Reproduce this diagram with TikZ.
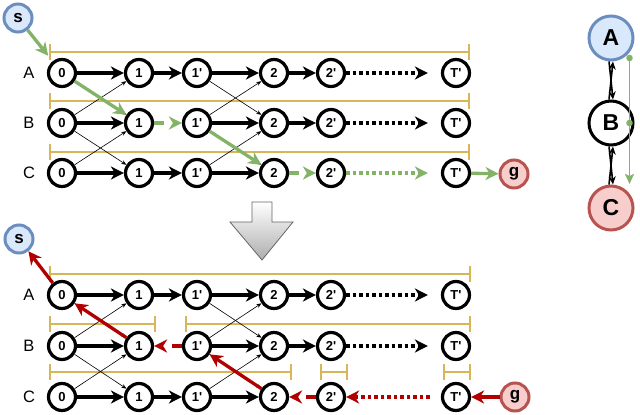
\documentclass[tikz,border=0pt]{standalone}
\usepackage{fontspec}
\setmainfont{Liberation Sans}
\usetikzlibrary{arrows.meta}
\definecolor{ygold}{HTML}{D6B656}
\definecolor{pgreen}{HTML}{82B366}
\definecolor{pred}{HTML}{B20000}
\definecolor{sblue}{HTML}{6C8EBF}
\definecolor{sbluef}{HTML}{DAE8FC}
\definecolor{gred}{HTML}{B85450}
\definecolor{gredf}{HTML}{F8CECC}
\tikzset{
  st/.style={circle,draw=black,line width=3.2pt,fill=white,minimum size=27pt,inner sep=0pt,
    font=\bfseries\fontsize{13}{13}\selectfont},
  term/.style={circle,line width=3pt,minimum size=28pt,inner sep=0pt,
    font=\bfseries\fontsize{17}{17}\selectfont},
  snode/.style={term,draw=sblue,fill=sbluef},
  gnode/.style={term,draw=gred,fill=gredf},
  big/.style={circle,line width=3pt,minimum size=44pt,inner sep=0pt,
    font=\bfseries\fontsize{23}{23}\selectfont},
  rowlab/.style={font=\fontsize{16.5}{17}\selectfont},
  tip/.style={-{Stealth[length=13pt,width=13pt,inset=4pt]}},
  thk/.style={line width=3.3pt,tip},
  shortd/.style={dash pattern=on 10pt off 20pt},
  dotl/.style={line width=3.5pt,dash pattern=on 3.5pt off 3pt,tip,shorten >=13pt},
  thin/.style={line width=0.6pt,-{Stealth[length=5pt,width=4pt]}},
  ybar/.style={draw=ygold,line width=1.6pt,{Bar[width=16pt]}-{Bar[width=16pt]}},
  gpath/.style={draw=pgreen,line width=3.3pt,tip},
  rpath/.style={draw=pred,line width=3.3pt,tip},
  dbl/.style={line width=1.6pt,-{Stealth[length=8pt,width=7pt]}},
}
\begin{document}
\begin{tikzpicture}[x=1pt,y=-1pt]
\useasboundingbox (0,0) rectangle (640,415);

% ---------- yellow crossbars ----------
\draw[ybar] (49,52) -- (470,52);
\draw[ybar] (49,101) -- (470,101);
\draw[ybar] (49,152) -- (470,152);
\draw[ybar] (49,274) -- (471,274);
\draw[ybar] (49,324) -- (156,324);
\draw[ybar] (185,324) -- (471,324);
\draw[ybar] (49,372) -- (292,372);
\draw[ybar] (320,372) -- (348,372);
\draw[ybar] (443,372) -- (471,372);

% ---------- state nodes ----------
\foreach \p/\ya/\yb/\yc in {t/73/123/173, b/295/346/397} {
  \foreach \r/\y in {A/\ya, B/\yb, C/\yc} {
    \foreach \c/\x/\l in {0/62/0, 1/139/1, 1p/197/1\textquotesingle, 2/274/2, 2p/331/2\textquotesingle, T/456/T\textquotesingle} {
      \node[st] (\p\r\c) at (\x,\y) {\l};
    }
  }
}
\foreach \p/\ya/\yb/\yc in {t/73/123/173, b/295/346/397} {
  \node[rowlab] (\p labA) at (29,\ya) {A};
  \node[rowlab] (\p labB) at (29,\yb) {B};
  \node[rowlab] (\p labC) at (29,\yc) {C};
}

\node[snode] (ts) at (18,18) {s};
\node[gnode] (tg) at (514,174) {g};
\node[snode] (bs) at (19,239) {s};
\node[gnode] (bg) at (515,397) {g};

% ---------- thin cross links ----------
\foreach \p in {t,b} {
  \draw[thin] (\p A0) -- (\p B1);
  \draw[thin] (\p B0) -- (\p A1);
  \draw[thin] (\p B0) -- (\p C1);
  \draw[thin] (\p C0) -- (\p B1);
  \draw[thin] (\p A1p) -- (\p B2);
  \draw[thin] (\p B1p) -- (\p A2);
  \draw[thin] (\p B1p) -- (\p C2);
  \draw[thin] (\p C1p) -- (\p B2);
}

% ---------- top: black edges ----------
\draw[thk] (tA0) -- (tA1);
\draw[thk] (tA1) -- (tA1p);
\draw[thk] (tA1p) -- (tA2);
\draw[thk] (tA2) -- (tA2p);
\draw[dotl] (tA2p) -- (tAT);
\draw[thk] (tB0) -- (tB1);
\draw[thk] (tB1p) -- (tB2);
\draw[thk] (tB2) -- (tB2p);
\draw[dotl] (tB2p) -- (tBT);
\draw[thk] (tC0) -- (tC1);
\draw[thk] (tC1) -- (tC1p);
\draw[thk] (tC1p) -- (tC2);
% ---------- top: green path ----------
\draw[gpath,shorten >=7pt] (ts) -- (tA0);
\draw[gpath] (tA0) -- (tB1);
\draw[gpath,shortd] (tB1) -- (tB1p);
\draw[gpath] (tB1p) -- (tC2);
\draw[gpath,shortd] (tC2) -- (tC2p);
\draw[dotl,draw=pgreen,line width=3.3pt] (tC2p) -- (tCT);
\draw[gpath] (tCT) -- (tg);

% ---------- bottom: black edges ----------
\draw[thk] (bA0) -- (bA1);
\draw[thk] (bA1) -- (bA1p);
\draw[thk] (bA1p) -- (bA2);
\draw[thk] (bA2) -- (bA2p);
\draw[dotl] (bA2p) -- (bAT);
\draw[thk] (bB0) -- (bB1);
\draw[thk] (bB1p) -- (bB2);
\draw[thk] (bB2) -- (bB2p);
\draw[dotl] (bB2p) -- (bBT);
\draw[thk] (bC0) -- (bC1);
\draw[thk] (bC1) -- (bC1p);
\draw[thk] (bC1p) -- (bC2);
% ---------- bottom: red path ----------
\draw[rpath] (bg) -- (bCT);
\draw[dotl,draw=pred,line width=3.3pt,shorten >=0pt,shorten <=11pt] (bCT) -- (bC2p);
\draw[rpath,shortd] (bC2p) -- (bC2);
\draw[rpath] (bC2) -- (bB1p);
\draw[rpath,shortd] (bB1p) -- (bB1);
\draw[rpath] (bB1) -- (bA0);
\draw[rpath] (bA0) -- (bs);

% ---------- big grey arrow ----------
\draw[draw=black!60,line width=0.8pt,top color=white,bottom color=black!32]
  (230,222) -- (252,222) -- (252,202) -- (272,202) -- (272,222) -- (293,222) -- (262,260) -- cycle;

% ---------- right diagram ----------
\node[big,draw=sblue,fill=sbluef] (rA) at (611,38) {A};
\node[big,draw=black,fill=white] (rB) at (611,123) {B};
\node[big,draw=gred,fill=gredf] (rC) at (611,208) {C};
\draw[dbl] ([xshift=-2pt]rA.south) -- ([xshift=2pt]rB.north);
\draw[dbl] ([xshift=-2pt]rB.north) -- ([xshift=2pt]rA.south);
\draw[dbl] ([xshift=-2pt]rB.south) -- ([xshift=2pt]rC.north);
\draw[dbl] ([xshift=-2pt]rC.north) -- ([xshift=2pt]rB.south);
\coordinate (gd1) at (629.5,58);
\coordinate (gd2) at (629.5,123);
\coordinate (gd3) at (629.5,184);
\draw[pgreen,line width=1.8pt,-{Stealth[length=10pt,width=9pt,inset=2pt]}] (gd1) -- (gd3);
\fill[pgreen] (gd1) circle (3.3pt);
\fill[pgreen] (gd2) circle (3.3pt);
\end{tikzpicture}
\end{document}
